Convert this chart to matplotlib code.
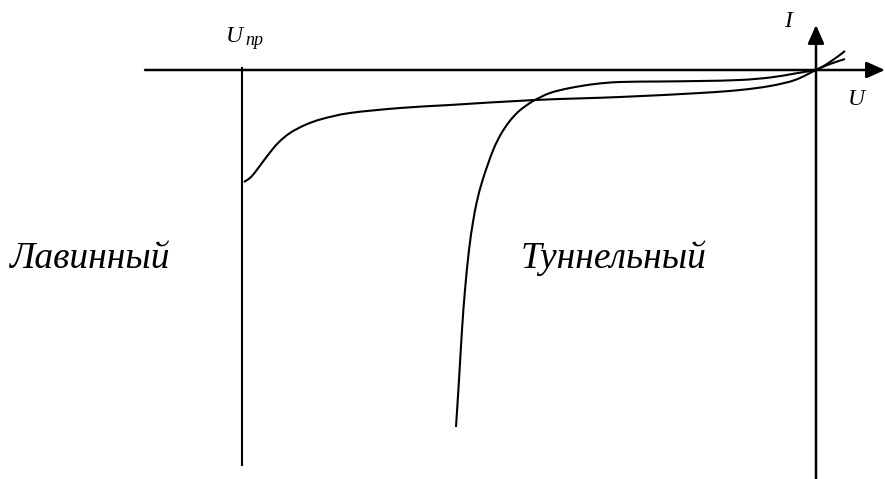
import matplotlib
matplotlib.use('Agg')
import matplotlib.pyplot as plt
from matplotlib.path import Path
from matplotlib.patches import PathPatch

# curve points (pixel coords, y grows downward)
aval_x = [244, 251, 259, 268, 278, 290, 305, 322, 350, 400, 450, 535, 620, 700, 740, 770, 795, 816, 830, 845]
aval_y = [182, 177, 167, 155, 143, 133, 125, 119, 113, 108, 105, 100, 97, 93, 90, 86, 80, 70, 64, 59]

tun_x = [456, 459, 462, 465, 469, 473, 477, 482, 488, 494, 501, 509, 518, 527, 535, 550, 570, 595, 620, 660, 700, 740, 770, 795, 816, 830, 845]
tun_y = [427, 380, 330, 290, 250, 222, 201, 182, 164, 148, 134, 122, 112, 105, 100, 93, 88, 84, 82, 81.5, 81, 80, 77.5, 73.5, 69.5, 62, 51]

x_axis = [145, 885]
y_axis = [479, 25]
origin = (816, 70)
u_br_x = 242
u_br_y = [68, 465]


def smooth_path(xs, ys):
    # Catmull-Rom through the points, drawn as cubic Bezier segments
    pts = list(zip(xs, ys))
    verts = [pts[0]]
    codes = [Path.MOVETO]
    n = len(pts)
    for i in range(n - 1):
        p0 = pts[max(i - 1, 0)]
        p1 = pts[i]
        p2 = pts[i + 1]
        p3 = pts[min(i + 2, n - 1)]
        c1 = (p1[0] + (p2[0] - p0[0]) / 6, p1[1] + (p2[1] - p0[1]) / 6)
        c2 = (p2[0] - (p3[0] - p1[0]) / 6, p2[1] - (p3[1] - p1[1]) / 6)
        verts += [c1, c2, p2]
        codes += [Path.CURVE4] * 3
    return Path(verts, codes)


plt.rcParams['font.family'] = ['Liberation Serif', 'DejaVu Serif']

fig = plt.figure(figsize=(8.85, 4.79), dpi=100)
ax = fig.add_axes([0, 0, 1, 1])
ax.set_xlim(0, 885)
ax.set_ylim(479, 0)
ax.axis('off')

arrow = dict(arrowstyle='-|>,head_length=0.45,head_width=0.2', mutation_scale=25,
             color='black', lw=1.8, shrinkA=0, shrinkB=0)
ax.annotate('', xy=(x_axis[1], origin[1]), xytext=(x_axis[0], origin[1]), arrowprops=arrow)
ax.annotate('', xy=(origin[0], y_axis[1]), xytext=(origin[0], y_axis[0]), arrowprops=arrow)

ax.plot([u_br_x, u_br_x], u_br_y, color='black', lw=1.5)
for xs, ys in [(aval_x, aval_y), (tun_x, tun_y)]:
    ax.add_patch(PathPatch(smooth_path(xs, ys), facecolor='none', edgecolor='black', lw=1.5))

ax.text(226, 42, 'U', fontsize=17, style='italic', va='baseline')
ax.text(245, 45, 'пр', fontsize=13, style='italic', va='baseline')
ax.text(784, 27, 'I', fontsize=17, style='italic', va='baseline')
ax.text(848, 105, 'U', fontsize=17, style='italic', va='baseline')
ax.text(10, 268, 'Лавинный', fontsize=27, style='italic', va='baseline')
ax.text(521, 268, 'Туннельный', fontsize=27, style='italic', va='baseline')

fig.savefig('out.png', dpi=100)
